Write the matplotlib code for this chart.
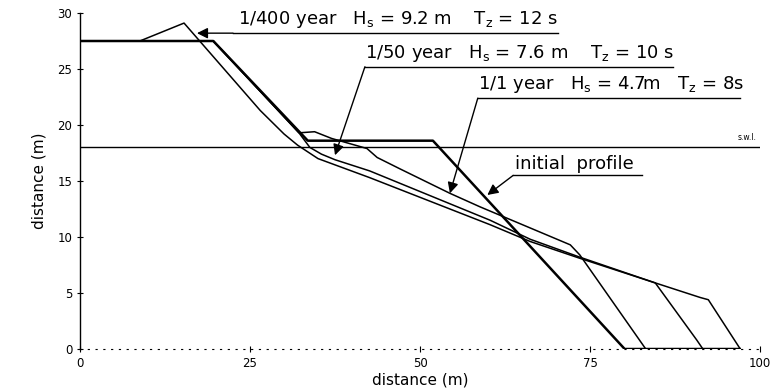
import matplotlib
matplotlib.use("Agg")
import matplotlib.pyplot as plt

# ---- data ----
initial_x = [0, 19.6, 33.5, 51.9, 80.1, 97]
initial_y = [27.5, 27.5, 18.6, 18.6, 0, 0]

y1_x = [0, 19.6, 32.2, 34.5, 37.0, 42.2, 43.7, 47.0, 54.4, 58.8, 72.1, 73.5, 83.2]
y1_y = [27.5, 27.5, 19.3, 19.4, 18.8, 17.9, 17.1, 16.1, 13.9, 12.7, 9.3, 8.4, 0]

y50_x = [0, 19.6, 32.2, 33.8, 35.5, 37.5, 42.6, 60.3, 66.2, 73.5, 84.6, 90.7, 91.6]
y50_y = [27.5, 27.5, 19.3, 18.0, 17.4, 16.9, 15.9, 11.5, 9.8, 8.2, 5.9, 0.8, 0]

y400_x = [0, 8.8, 15.3, 26.5, 30.0, 32.0, 35.0, 42.6, 60.3, 66.2, 73.5, 84.6, 91.2, 92.4, 97.1]
y400_y = [27.5, 27.5, 29.1, 21.3, 19.2, 18.2, 17.0, 15.3, 11.1, 9.6, 8.1, 5.9, 4.6, 4.4, 0]

swl_level = 18.0
x_ticks = [0, 25, 50, 75, 100]
y_ticks = [0, 5, 10, 15, 20, 25, 30]

labels = [
    r'1/400 year   H$_\mathregular{s}$ = 9.2 m    T$_\mathregular{z}$ = 12 s',
    r'1/50 year   H$_\mathregular{s}$ = 7.6 m    T$_\mathregular{z}$ = 10 s',
    r'1/1 year   H$_\mathregular{s}$ = 4.7m   T$_\mathregular{z}$ = 8s',
    'initial  profile',
]

fig = plt.figure(figsize=(7.82, 3.92), dpi=100)
ax = fig.add_axes([80/782, 43/392, 680/782, 336/392])

ax.plot(initial_x, initial_y, color='k', lw=1.8)
ax.plot(y1_x, y1_y, color='k', lw=1.1)
ax.plot(y50_x, y50_y, color='k', lw=1.1)
ax.plot(y400_x, y400_y, color='k', lw=1.1)
ax.axhline(swl_level, color='k', lw=1.0)
ax.text(99.5, 18.5, 's.w.l.', fontsize=5.5, ha='right', va='bottom')

ax.set_xlim(0, 100)
ax.set_ylim(0, 30)
ax.set_xticks(x_ticks)
ax.set_yticks(y_ticks)
for s in ['top', 'right']:
    ax.spines[s].set_visible(False)
ax.spines['left'].set_linewidth(1.0)
ax.spines['bottom'].set_linewidth(0.8)
ax.spines['bottom'].set_linestyle((0, (1, 6)))
ax.tick_params(direction='inout', length=4, width=0.8, labelsize=8.5)
ax.set_xlabel('distance (m)', fontsize=11, labelpad=2)
ax.set_ylabel('distance (m)', fontsize=11, labelpad=8)

ap = dict(arrowstyle='-|>', color='k', lw=1.0, mutation_scale=16, shrinkA=0, shrinkB=0)
fs = 13

# 1/400 year leader
ax.annotate('', xy=(17.2, 28.2), xytext=(22.5, 28.2), arrowprops=ap)
ax.plot([22.5, 70.3], [28.2, 28.2], color='k', lw=1.0)
ax.text(23.3, 28.45, labels[0], fontsize=fs, ha='left', va='bottom')

# 1/50 year leader
ax.annotate('', xy=(37.5, 17.3), xytext=(41.9, 25.2), arrowprops=ap)
ax.plot([41.9, 87.2], [25.2, 25.2], color='k', lw=1.0)
ax.text(41.9, 25.45, labels[1], fontsize=fs, ha='left', va='bottom')

# 1/1 year leader
ax.annotate('', xy=(54.4, 13.9), xytext=(58.5, 22.4), arrowprops=ap)
ax.plot([58.5, 97.1], [22.4, 22.4], color='k', lw=1.0)
ax.text(58.6, 22.65, labels[2], fontsize=fs, ha='left', va='bottom')

# initial profile leader
ax.annotate('', xy=(59.9, 13.75), xytext=(63.7, 15.5), arrowprops=ap)
ax.plot([63.7, 82.6], [15.5, 15.5], color='k', lw=1.0)
ax.text(63.9, 15.75, labels[3], fontsize=fs, ha='left', va='bottom')

fig.savefig('out.png', dpi=100)
